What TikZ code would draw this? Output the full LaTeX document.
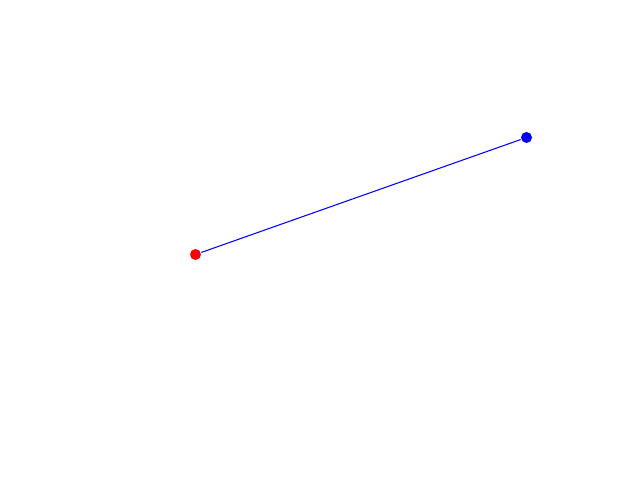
\documentclass[tikz,border=0pt]{standalone}
\begin{document}
\begin{tikzpicture}[x=0.01cm,y=-0.01cm,
  dotstyle/.style={circle,inner sep=0pt,minimum size=0.11cm},
  linkstyle/.style={blue,line width=0.3pt}]
\useasboundingbox[fill=white] (0,0) rectangle (640,480);
\node[dotstyle,fill=red] (a) at (195.5,254.5) {};
\node[dotstyle,fill=blue] (b) at (526.5,137.5) {};
\draw[linkstyle] (a) -- (b);
\end{tikzpicture}
\end{document}
